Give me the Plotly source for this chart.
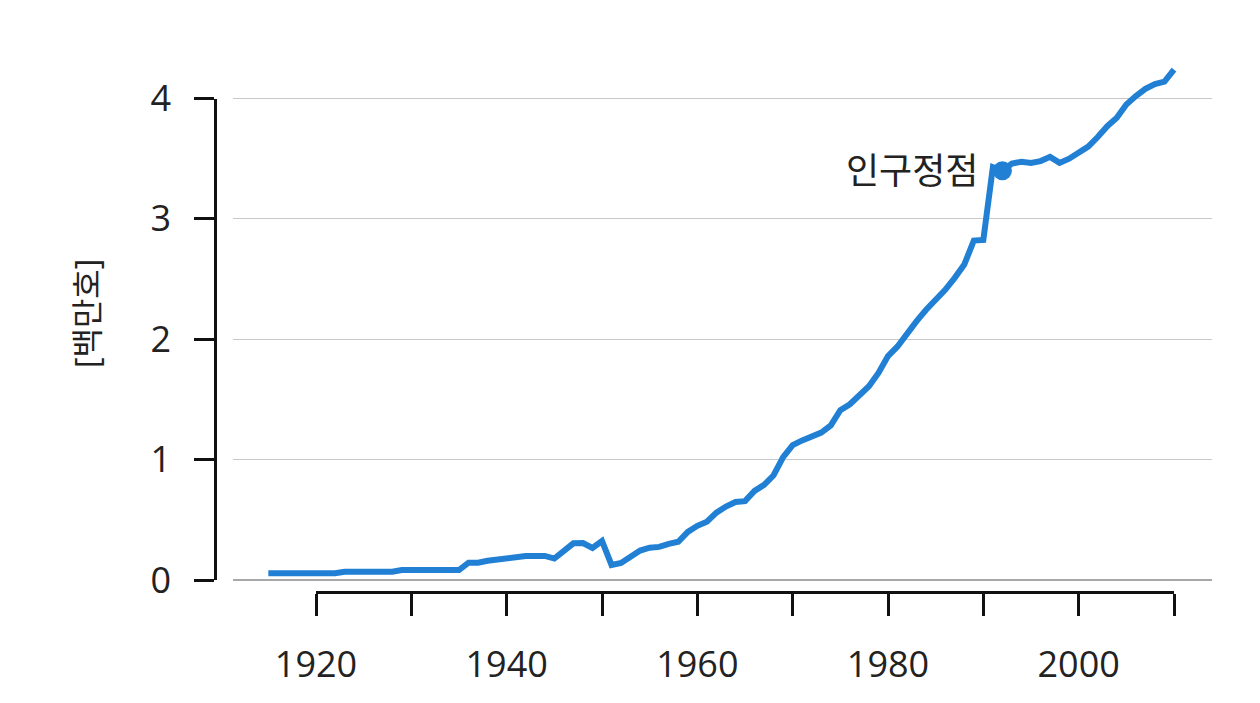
import plotly.graph_objects as go

# ---- data ----
years = list(range(1915, 2011))
households = [
    0.056, 0.056, 0.056, 0.056, 0.056, 0.056, 0.056, 0.056,          # 1915-1922
    0.069, 0.069, 0.069, 0.069, 0.069, 0.069,                        # 1923-1928
    0.083, 0.083, 0.083, 0.083, 0.083, 0.083, 0.083,                 # 1929-1935
    0.144, 0.144, 0.160, 0.172, 0.180, 0.190, 0.200, 0.200, 0.200,   # 1936-1944
    0.178, 0.240, 0.305, 0.307, 0.266, 0.324,                        # 1945-1950
    0.125, 0.141, 0.200, 0.245, 0.268, 0.275, 0.300, 0.318, 0.400, 0.450,  # 1951-1960
    0.485, 0.560, 0.610, 0.648, 0.655, 0.740, 0.790, 0.870, 1.020, 1.120,  # 1961-1970
    1.160, 1.190, 1.225, 1.285, 1.410, 1.460, 1.540, 1.610, 1.720, 1.860,  # 1971-1980
    1.940, 2.050, 2.150, 2.245, 2.320, 2.410, 2.510, 2.620, 2.820, 2.825,  # 1981-1990
    3.430, 3.400, 3.460, 3.475, 3.465, 3.480, 3.515, 3.465, 3.500, 3.555,  # 1991-2000
    3.600, 3.680, 3.770, 3.840, 3.950, 4.020, 4.080, 4.120, 4.140, 4.240,  # 2001-2010
]
peak_year = [1992]
peak_value = [3.40]
peak_label = ["인구정점"]
x_ticks = [1920, 1930, 1940, 1950, 1960, 1970, 1980, 1990, 2000, 2010]
x_ticktext = ["1920", "", "1940", "", "1960", "", "1980", "", "2000", ""]
y_ticks = [0, 1, 2, 3, 4]
y_title = "[백만호]"

# ---- layout geometry (page pixels; page body has an 8px margin) ----
OFF = 8
W, H = 1260, 703
ML, MR, MT, MB = 190, 56, 50, 103
pw = W - ML - MR
ph = H - MT - MB
grid_left_px, grid_right_px = 233 - OFF, 1212 - OFF
x1920_px, x2010_px = 316 - OFF, 1174 - OFF
y0_px, y4_px = 580 - OFF, 98.5 - OFF
yaxis_px = 215 - OFF
xaxis_px = 592.3 - OFF

px_per_year = (x2010_px - x1920_px) / 90.0
x_range = [1920 - (x1920_px - grid_left_px) / px_per_year,
           2010 + (grid_right_px - x2010_px) / px_per_year]
px_per_unit = (y0_px - y4_px) / 4.0
y_range = [0 - ((MT + ph) - y0_px) / px_per_unit,
           4 + (y4_px - MT) / px_per_unit]

def fx(px):
    return (px - ML) / pw

def fy(py):
    return (MT + ph - py) / ph

FONT = "Open Sans, Noto Sans CJK KR, sans-serif"
TXT = "#222222"
BLUE = "#2180d4"

fig = go.Figure()

fig.add_trace(go.Scatter(
    x=years, y=households, mode="lines",
    line=dict(color=BLUE, width=6),
    hoverinfo="x+y", showlegend=False,
))
fig.add_trace(go.Scatter(
    x=peak_year, y=peak_value, mode="markers",
    marker=dict(color=BLUE, size=19),
    showlegend=False,
))
# invisible trace to carry the R-style axes
fig.add_trace(go.Scatter(
    x=[1920, 2010], y=[0, 4], xaxis="x2", yaxis="y2",
    mode="markers", marker=dict(opacity=0), hoverinfo="skip", showlegend=False,
))

fig.add_annotation(
    x=peak_year[0], y=peak_value[0], text=peak_label[0],
    showarrow=False, xanchor="right", yanchor="middle",
    xshift=-22, yshift=0,
    font=dict(family=FONT, size=36, color=TXT),
)
fig.add_annotation(
    xref="paper", yref="paper", x=fx(86 - OFF), y=fy(314 - OFF),
    text=y_title, textangle=-90, showarrow=False,
    xanchor="center", yanchor="middle",
    font=dict(family=FONT, size=32, color=TXT),
)

fig.update_layout(
    width=W, height=H,
    margin=dict(l=ML, r=MR, t=MT, b=MB),
    paper_bgcolor="white", plot_bgcolor="rgba(0,0,0,0)",
    xaxis=dict(
        domain=[fx(grid_left_px), fx(grid_right_px)], range=x_range,
        showgrid=False, zeroline=False, showline=False,
        showticklabels=False, ticks="",
    ),
    yaxis=dict(
        domain=[0, 1], range=y_range,
        tickvals=y_ticks, showgrid=True, gridcolor="#c8c8c8", gridwidth=1.2,
        zeroline=True, zerolinecolor="#a8a8a8", zerolinewidth=2.2,
        showline=False, showticklabels=False, ticks="",
    ),
    xaxis2=dict(
        domain=[fx(x1920_px), fx(x2010_px)], range=[1920, 2010],
        anchor="free", position=fy(xaxis_px),
        tickvals=x_ticks, ticktext=x_ticktext,
        showline=True, linecolor="#111111", linewidth=2.5,
        ticks="outside", ticklen=22, tickwidth=2.5, tickcolor="#111111",
        showgrid=False, zeroline=False,
        tickfont=dict(family=FONT, size=36, color=TXT),
        ticklabelstandoff=18,
    ),
    yaxis2=dict(
        domain=[fy(y0_px), fy(y4_px)], range=[0, 4],
        anchor="free", position=fx(yaxis_px),
        tickvals=y_ticks,
        showline=True, linecolor="#111111", linewidth=2.5,
        ticks="outside", ticklen=20, tickwidth=2.5, tickcolor="#111111",
        showgrid=False, zeroline=False,
        tickfont=dict(family=FONT, size=36, color=TXT),
        ticklabelstandoff=16,
    ),
)

fig.write_html("out.html")
